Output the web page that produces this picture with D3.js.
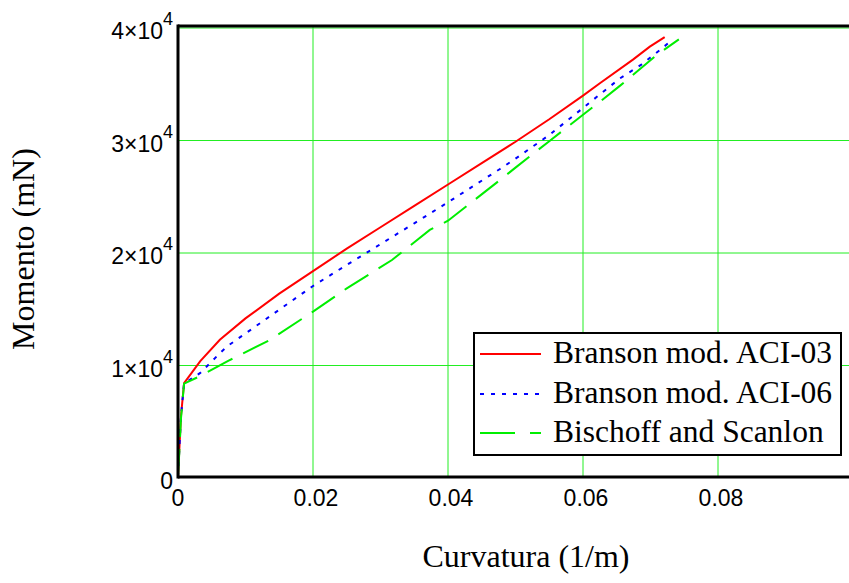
<!DOCTYPE html>
<html><head><meta charset="utf-8">
<script src="https://cdn.jsdelivr.net/npm/d3@7"></script>
<style>body{margin:0;background:#fff}svg{display:block}</style>
</head><body>
<svg id="c" width="849" height="583"></svg>
<script>
// Data
const seriesNames = ["Branson mod. ACI-03", "Branson mod. ACI-06", "Bischoff and Scanlon"];
const curvRed = [0, 0.0002, 0.00044, 0.0009, 0.0033, 0.0062, 0.010, 0.015, 0.020, 0.025, 0.030, 0.035, 0.040, 0.045, 0.050, 0.055, 0.060, 0.0625, 0.0674, 0.0699, 0.0721];
const momRed  = [0, 2500, 5400, 8350, 10300, 12200, 14100, 16300, 18300, 20300, 22200, 24100, 26000, 27900, 29800, 31800, 33900, 35000, 37100, 38250, 39100];
const curvBlue = [0, 0.0002, 0.00044, 0.0009, 0.0033, 0.0062, 0.0072, 0.010, 0.015, 0.020, 0.025, 0.030, 0.035, 0.040, 0.0477, 0.050, 0.055, 0.060, 0.063, 0.0655, 0.0687, 0.0714, 0.0729];
const momBlue  = [0, 2500, 5400, 8300, 9250, 11000, 11580, 12760, 14870, 16980, 18850, 20700, 22550, 24420, 27380, 28300, 30400, 32800, 34250, 35440, 36680, 37950, 38700];
const curvGreen = [0, 0.0002, 0.00044, 0.0009, 0.0033, 0.0075, 0.0136, 0.020, 0.025, 0.0317, 0.0373, 0.040, 0.0477, 0.050, 0.055, 0.060, 0.0625, 0.0655, 0.0709, 0.0742];
const momGreen  = [0, 2300, 5200, 8300, 8980, 10340, 12180, 14700, 16770, 19290, 21960, 22780, 26400, 27500, 29850, 32200, 33360, 34790, 37510, 38900];
const xTicks = [0, 0.02, 0.04, 0.06, 0.08];
const xTickLabels = ["0", "0.02", "0.04", "0.06", "0.08"];
const yTicks = [0, 10000, 20000, 30000, 40000];
const yTickMant = ["0", "1", "2", "3", "4"];
const xTitle = "Curvatura (1/m)";
const yTitle = "Momento (mN)";

const svg = d3.select("#c");
const pL = 178, pB = 477, pT = 27;
const x = d3.scaleLinear().domain([0, 0.1]).range([pL, pL + 675]);
const y = d3.scaleLinear().domain([0, 40000]).range([pB, pT]);

// grid
const grid = svg.append("g");
grid.selectAll("line.gx").data(xTicks.slice(1).concat([0.1])).enter().append("line")
  .attr("x1", d => x(d)).attr("x2", d => x(d)).attr("y1", y(40000)).attr("y2", pB)
  .attr("stroke", "#22ee22").attr("stroke-width", 1);
grid.selectAll("line.gy").data(yTicks.slice(1)).enter().append("line")
  .attr("x1", pL).attr("x2", x(0.1)).attr("y1", d => y(d) + 1).attr("y2", d => y(d) + 1)
  .attr("stroke", "#22ee22").attr("stroke-width", 1);

// series
const colors = ["#ff0000", "#0000ff", "#00ee00"];
const dashes = [null, "4,7", "28,12"];
const datasets = [
  curvRed.map((c, i) => [c, momRed[i]]),
  curvBlue.map((c, i) => [c, momBlue[i]]),
  curvGreen.map((c, i) => [c, momGreen[i]])
];
const line = d3.line().x(d => x(d[0])).y(d => y(d[1]));
datasets.forEach((ds, i) => {
  svg.append("path").datum(ds).attr("d", line).attr("fill", "none")
    .attr("stroke", colors[i]).attr("stroke-width", 2)
    .attr("stroke-dasharray", dashes[i]);
});

// frame
svg.append("line").attr("x1", pL).attr("x2", 849).attr("y1", pB).attr("y2", pB)
  .attr("stroke", "#000").attr("stroke-width", 3);
svg.append("line").attr("x1", pL).attr("x2", pL).attr("y1", pT - 2.5).attr("y2", pB + 1.5)
  .attr("stroke", "#000").attr("stroke-width", 3);
svg.append("line").attr("x1", pL).attr("x2", 849).attr("y1", pT - 1).attr("y2", pT - 1)
  .attr("stroke", "#000").attr("stroke-width", 3);

// x tick labels
svg.append("g").selectAll("text").data(xTicks).enter().append("text")
  .attr("x", d => x(d) + (d === 0 ? 0 : 3)).attr("y", 506)
  .attr("text-anchor", "middle")
  .attr("font-family", "Liberation Sans, Arial, sans-serif").attr("font-size", 23)
  .text((d, i) => xTickLabels[i]);

// y tick labels
const yl = svg.append("g").selectAll("text").data(yTicks).enter().append("text")
  .attr("x", 173).attr("y", d => y(d) + 12)
  .attr("text-anchor", "end")
  .attr("font-family", "Liberation Sans, Arial, sans-serif").attr("font-size", 23);
yl.each(function(d, i) {
  const t = d3.select(this);
  if (d === 0) { t.text("0"); return; }
  t.append("tspan").text(yTickMant[i] + "\u00d710");
  t.append("tspan").attr("font-size", 18).attr("dy", -14).text("4");
});

// axis titles
svg.append("text").attr("x", 526).attr("y", 567).attr("text-anchor", "middle")
  .attr("font-family", "Liberation Serif, Times New Roman, serif").attr("font-size", 32)
  .text(xTitle);
svg.append("text").attr("transform", "translate(34,249) rotate(-90)").attr("text-anchor", "middle")
  .attr("font-family", "Liberation Serif, Times New Roman, serif").attr("font-size", 32)
  .text(yTitle);

// legend
const lg = svg.append("g");
lg.append("rect").attr("x", 474).attr("y", 333).attr("width", 367).attr("height", 122)
  .attr("fill", "#fff").attr("stroke", "#000").attr("stroke-width", 2);
const rowsY = [354, 394, 433];
seriesNames.forEach((n, i) => {
  lg.append("line").attr("x1", 480).attr("x2", 541).attr("y1", rowsY[i]).attr("y2", rowsY[i])
    .attr("stroke", colors[i]).attr("stroke-width", 2).attr("stroke-dasharray", i === 2 ? "35,15" : dashes[i]);
  lg.append("text").attr("x", 553).attr("y", rowsY[i] + 9)
    .attr("font-family", "Liberation Serif, Times New Roman, serif").attr("font-size", 31.5)
    .text(n);
});
</script>
</body></html>
